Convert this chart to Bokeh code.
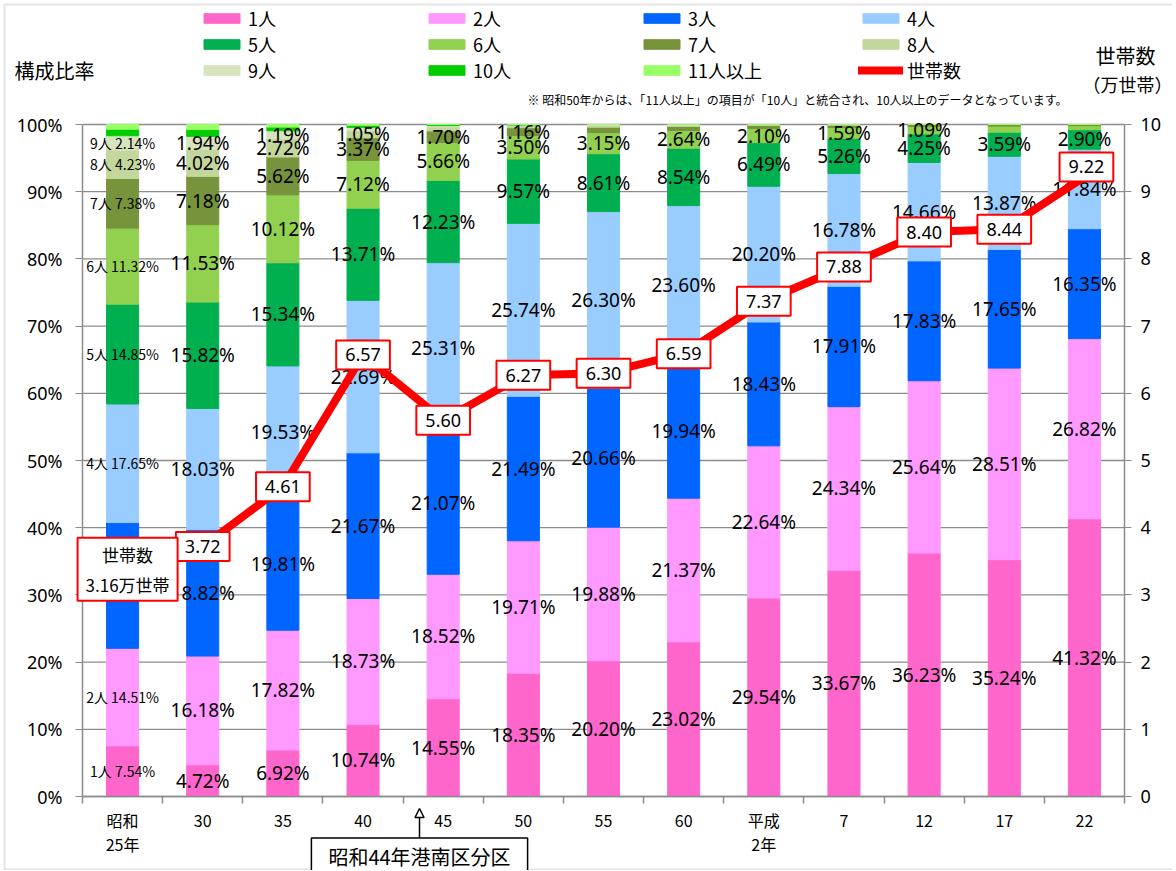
from bokeh.plotting import figure
from bokeh.models import (Range1d, LinearAxis, FixedTicker, Label, Legend, LegendItem,
                          ColumnDataSource, Arrow, NormalHead, PrintfTickFormatter, BoxAnnotation)
from bokeh.core.properties import value
from bokeh.embed import file_html
from bokeh.resources import INLINE

# ---------------- data ----------------
years = ["昭和\n25年", "30", "35", "40", "45", "50", "55", "60", "平成\n2年", "7", "12", "17", "22"]
groups = ["1人", "2人", "3人", "4人", "5人", "6人", "7人", "8人", "9人", "10人", "11人以上"]
p1 = [7.54, 4.72, 6.92, 10.74, 14.55, 18.35, 20.20, 23.02, 29.54, 33.67, 36.23, 35.24, 41.32]
p2 = [14.51, 16.18, 17.82, 18.73, 18.52, 19.71, 19.88, 21.37, 22.64, 24.34, 25.64, 28.51, 26.82]
p3 = [18.71, 18.82, 19.81, 21.67, 21.07, 21.49, 20.66, 19.94, 18.43, 17.91, 17.83, 17.65, 16.35]
p4 = [17.65, 18.03, 19.53, 22.69, 25.31, 25.74, 26.30, 23.60, 20.20, 16.78, 14.66, 13.87, 11.84]
p5 = [14.85, 15.82, 15.34, 13.71, 12.23, 9.57, 8.61, 8.54, 6.49, 5.26, 4.25, 3.59, 2.90]
p6 = [11.32, 11.53, 10.12, 7.12, 5.66, 3.50, 3.15, 2.64, 2.10, 1.59, 1.09, 0.90, 0.60]
p7 = [7.38, 7.18, 5.62, 3.37, 1.70, 1.16, 0.80, 0.60, 0.45, 0.35, 0.30, 0.24, 0.17]
p8 = [4.23, 4.02, 2.72, 1.05, 0.60, 0.30, 0.30, 0.20, 0.15, 0.10, 0.00, 0.00, 0.00]
p9 = [2.14, 1.94, 1.19, 0.50, 0.20, 0.10, 0.10, 0.09, 0.00, 0.00, 0.00, 0.00, 0.00]
p10 = [0.97, 1.00, 0.55, 0.30, 0.16, 0.08, 0.00, 0.00, 0.00, 0.00, 0.00, 0.00, 0.00]
p11 = [0.70, 0.76, 0.38, 0.12, 0.00, 0.00, 0.00, 0.00, 0.00, 0.00, 0.00, 0.00, 0.00]
households = [3.16, 3.72, 4.61, 6.57, 5.60, 6.27, 6.30, 6.59, 7.37, 7.88, 8.40, 8.44, 9.22]
pct_ticks = list(range(0, 101, 10))
hh_ticks = list(range(0, 11))

series = [p1, p2, p3, p4, p5, p6, p7, p8, p9, p10, p11]
colors = ["#FF66CC", "#FF99FF", "#0066FF", "#99CCFF", "#00B050", "#92D050",
          "#77933C", "#C3D69B", "#D7E4BD", "#00CC00", "#99FF66"]

GRAY = "#8c8c8c"
JP = "Noto Sans CJK JP"
LAT = "Noto Sans"

# ---------------- geometry (pixels) ----------------
W, H = 1172, 870
X0, X1, YT, YB = 82, 1124, 124, 796          # plot area on the canvas
NC = len(years)
cw = (X1 - X0) / NC
ppp = (YB - YT) / 100.0
pph = (YB - YT) / 10.0

p = figure(width=W, height=H, output_backend="svg", toolbar_location=None,
           x_range=Range1d(-X0 / cw, NC + (W - X1) / cw),
           y_range=Range1d(-(H - YB) / ppp, 100 + YT / ppp),
           x_axis_type=None, y_axis_type=None,
           min_border=0, min_border_left=0, min_border_right=0,
           min_border_top=0, min_border_bottom=0,
           outline_line_color=None)
p.extra_y_ranges = {"hh": Range1d(-(H - YB) / pph, 10 + YT / pph)}
p.grid.visible = False

# outer chart border
p.add_layout(BoxAnnotation(left=4, right=W + 10, bottom=1, top=H - 4,
                           left_units="screen", right_units="screen",
                           bottom_units="screen", top_units="screen",
                           fill_alpha=0, line_color="#a6a6a6", line_width=2))

xs = [i + 0.5 for i in range(NC)]

# grid lines
p.segment(x0=[0] * len(pct_ticks), x1=[NC] * len(pct_ticks), y0=pct_ticks, y1=pct_ticks,
          line_color=GRAY, line_width=1.3)

# stacked bars
data = {"x": xs}
for g, s in zip(groups, series):
    data[g] = s
src = ColumnDataSource(data)
bars = p.vbar_stack(groups, x="x", width=0.4, color=colors, source=src)

# data labels
lx, ly, lt = [], [], []
fx, fy, ft = [], [], []
for i in range(NC):
    cum = 0.0
    for gi, s in enumerate(series):
        v = s[i]
        if gi < 9 and v >= 1.0:
            if i == 0:
                fx.append(xs[i]); fy.append(cum + v / 2); ft.append(f"{groups[gi]} {v:.2f}%")
            else:
                lx.append(xs[i]); ly.append(cum + v / 2); lt.append(f"{v:.2f}%")
        cum += v
p.text(x=lx, y=ly, text=lt, text_align="center", text_baseline="middle",
       text_font=value(LAT), text_font_size="19px", text_color="black")
p.text(x=fx, y=fy, text=ft, text_align="center", text_baseline="middle",
       text_font=value(JP), text_font_size="14px", text_color="black")

# households line
line = p.line(xs, households, y_range_name="hh", line_color="#FF0000", line_width=8,
              line_cap="round", line_join="round")

for i in range(1, NC):
    last = (i == NC - 1)
    p.add_layout(Label(x=xs[i], y=households[i], y_range_name="hh", text=f"{households[i]:.2f}",
                       x_offset=2 if last else 0, y_offset=10 if last else 0,
                       text_align="center", text_baseline="middle", text_font=LAT,
                       text_font_size="18px", text_color="black",
                       background_fill_color="white", border_line_color="#FF0000",
                       border_line_width=2, padding=(9, 8)))
p.add_layout(Label(x=xs[0], y=households[0], y_range_name="hh", x_offset=5, y_offset=15,
                   text=f"世帯数\n{households[0]:.2f}万世帯",
                   text_align="center", text_baseline="middle", text_font=JP,
                   text_font_size="17px", text_color="black",
                   background_fill_color="white", border_line_color="#FF0000",
                   border_line_width=2, padding=(8, 4)))

# ---------------- axes ----------------
def style_axis(ax, font, size):
    ax.axis_line_color = GRAY
    ax.axis_line_width = 1.5
    ax.major_label_text_font = font
    ax.major_label_text_font_size = size
    ax.major_label_text_color = "black"

ya = LinearAxis(fixed_location=0, bounds=(0, 100),
                ticker=FixedTicker(ticks=pct_ticks, minor_ticks=[]),
                formatter=PrintfTickFormatter(format="%d%%"))
style_axis(ya, LAT, "18px")
ya.major_tick_line_color = GRAY
ya.major_tick_out = 7
ya.major_tick_in = 0
ya.major_label_standoff = 13
p.add_layout(ya, "left")

ra = LinearAxis(y_range_name="hh", fixed_location=NC, bounds=(0, 10),
                ticker=FixedTicker(ticks=hh_ticks, minor_ticks=[]))
style_axis(ra, LAT, "18px")
ra.major_tick_line_color = GRAY
ra.major_tick_out = 7
ra.major_tick_in = 0
ra.major_label_standoff = 9
p.add_layout(ra, "right")

xa = LinearAxis(fixed_location=0, bounds=(0, NC),
                ticker=FixedTicker(ticks=xs, minor_ticks=list(range(0, NC + 1))))
xa.major_label_overrides = {x: lab for x, lab in zip(xs, years)}
style_axis(xa, JP, "16px")
xa.major_label_text_line_height = 1.0
xa.major_tick_line_color = None
xa.major_tick_out = 0
xa.major_tick_in = 0
xa.minor_tick_line_color = GRAY
xa.minor_tick_line_width = 1.5
xa.minor_tick_out = 7
xa.minor_tick_in = 0
xa.major_label_standoff = 4
p.add_layout(xa, "below")

# ---------------- legend (4 columns) ----------------
columns = [[0, 4, 8], [1, 5, 9], [2, 6, 10], [3, 7, None]]
leg_x = [199, 424, 639, 858]      # page x of legend left
for col, lxp in zip(columns, leg_x):
    items = []
    for gi in col:
        if gi is None:
            items.append(LegendItem(label="世帯数", renderers=[line]))
        else:
            items.append(LegendItem(label=groups[gi], renderers=[bars[gi]]))
    lg = Legend(items=items, orientation="vertical",
                glyph_width=45, glyph_height=12, label_standoff=4, spacing=0,
                label_height=20, padding=0, margin=0, border_line_color=None,
                background_fill_alpha=0,
                label_text_font=JP, label_text_font_size="18px", label_text_color="black")
    lg.location = (lxp, H - 83)
    p.add_layout(lg)

# ---------------- titles / notes ----------------
def slabel(px, py, text, size, align="center", font=JP, **kw):
    p.add_layout(Label(x=px, y=H - py, x_units="screen", y_units="screen", text=text,
                       text_align=align, text_baseline="middle", text_font=font,
                       text_font_size=size, text_color="black", **kw))

slabel(54, 70, "構成比率", "20px")
slabel(1125, 55, "世帯数", "20px")
slabel(1127, 83, "（万世帯）", "18px")
slabel(527, 99, "※ 昭和50年からは、「11人以上」の項目が「10人」と統合され、10人以上のデータとなっています。",
       "12px", align="left")

p.add_layout(Arrow(x_start=419, y_start=H - 838, x_end=419, y_end=H - 808,
                   start_units="screen", end_units="screen",
                   line_color="black", line_width=1.5,
                   end=NormalHead(size=9, fill_color="white", line_color="black", line_width=1.5)))
slabel(419, 856, "昭和44年港南区分区", "20px",
       background_fill_color="white", border_line_color="black", border_line_width=1.5,
       padding=(17, 4))

open("out.html", "w").write(file_html(p, INLINE))
